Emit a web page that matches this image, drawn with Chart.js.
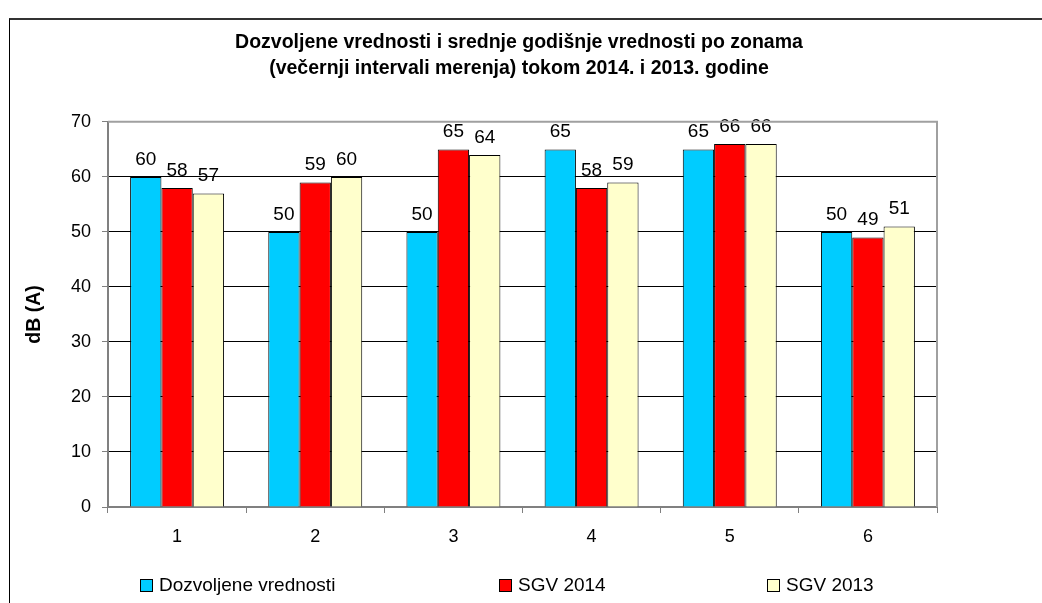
<!DOCTYPE html>
<html lang="sr">
<head>
    <meta charset="UTF-8">
    <title>Dozvoljene vrednosti i SGV po zonama</title>
    <script src="https://cdn.jsdelivr.net/npm/chart.js"></script>
    <style>
        body {
            margin: 0;
            background: #ffffff;
            overflow: hidden;
            font-family: "Liberation Sans", Arial, sans-serif;
        }
        .frame {
            position: absolute;
            left: 9px;
            top: 18px;
            width: 1060px;
            height: 620px;
            border-left: 1px solid #000;
            border-top: 2px solid #333;
        }
        .chart-box {
            position: absolute;
            left: 10px;
            top: 19px;
            width: 1018px;
            height: 584px;
        }
    </style>
</head>
<body>
    <div class="frame"></div>
    <div class="chart-box">
        <canvas id="myChart"></canvas>
    </div>

    <script>
        const zones = ['1', '2', '3', '4', '5', '6'];
        const dozvoljene = [60, 50, 50, 65, 65, 50];
        const sgv2014 = [58, 59, 65, 58, 66, 49];
        const sgv2013 = [57, 60, 64, 59, 66, 51];
        const yTicks = [0, 10, 20, 30, 40, 50, 60, 70];

        const seriesNames = ['Dozvoljene vrednosti', 'SGV 2014', 'SGV 2013'];
        const seriesColors = ['#00ccff', '#ff0000', '#ffffcc'];
        const fontFamily = '"Liberation Sans", Arial, sans-serif';

        // value labels above each bar
        const valueLabels = {
            id: 'valueLabels',
            afterDatasetsDraw(chart) {
                const c = chart.ctx;
                c.save();
                c.font = '19px ' + fontFamily;
                c.fillStyle = '#000';
                c.textAlign = 'center';
                c.textBaseline = 'alphabetic';
                chart.data.datasets.forEach((ds, i) => {
                    chart.getDatasetMeta(i).data.forEach((bar, j) => {
                        c.fillText(ds.data[j], bar.x, bar.y - 12);
                    });
                });
                c.restore();
            }
        };

        // grey top/right border of the plot area + legend along the bottom
        const frameAndLegend = {
            id: 'frameAndLegend',
            afterDraw(chart) {
                const c = chart.ctx;
                const a = chart.chartArea;
                c.save();
                c.strokeStyle = '#a0a0a0';
                c.lineWidth = 2;
                c.beginPath();
                c.moveTo(a.left, a.top);
                c.lineTo(a.right, a.top);
                c.lineTo(a.right, a.bottom);
                c.stroke();

                const xs = [130, 489, 757];
                const y = 566;
                c.font = '19px ' + fontFamily;
                c.textBaseline = 'middle';
                c.textAlign = 'left';
                c.lineWidth = 1;
                c.strokeStyle = '#000';
                seriesNames.forEach((name, i) => {
                    c.fillStyle = seriesColors[i];
                    c.fillRect(xs[i] + 0.5, y - 6 + 0.5, 12, 12);
                    c.strokeRect(xs[i] + 0.5, y - 6 + 0.5, 12, 12);
                    c.fillStyle = '#000';
                    c.fillText(name, xs[i] + 19, y + 1);
                });
                c.restore();
            }
        };

        const ctx = document.getElementById('myChart').getContext('2d');
        new Chart(ctx, {
            type: 'bar',
            data: {
                labels: zones,
                datasets: [dozvoljene, sgv2014, sgv2013].map((d, i) => ({
                    label: seriesNames[i],
                    data: d,
                    backgroundColor: seriesColors[i],
                    borderColor: '#000',
                    borderWidth: 1,
                    categoryPercentage: 0.68,
                    barPercentage: 1
                }))
            },
            options: {
                responsive: true,
                maintainAspectRatio: false,
                animation: false,
                layout: {
                    padding: { left: 0, right: 0, top: 0, bottom: 46 }
                },
                plugins: {
                    legend: { display: false },
                    tooltip: { enabled: false },
                    title: {
                        display: true,
                        text: ['Dozvoljene vrednosti i srednje godišnje vrednosti po zonama',
                               '(večernji intervali merenja) tokom 2014. i 2013. godine'],
                        color: '#000',
                        font: { family: fontFamily, size: 19.5, weight: 'bold', lineHeight: 1.33 },
                        padding: { top: 11, bottom: 40 }
                    }
                },
                scales: {
                    x: {
                        afterFit: s => { s.height = 50; },
                        grid: {
                            offset: true,
                            drawOnChartArea: false,
                            tickColor: '#808080',
                            tickLength: 6
                        },
                        border: { color: '#808080', width: 2 },
                        ticks: {
                            color: '#000',
                            padding: 13,
                            font: { family: fontFamily, size: 18 }
                        }
                    },
                    y: {
                        min: 0,
                        max: 70,
                        afterFit: s => { s.width = 98; },
                        afterBuildTicks: s => { s.ticks = yTicks.map(v => ({ value: v })); },
                        grid: {
                            color: c => c.tick && c.tick.value === 70 ? '#a0a0a0' : '#000',
                            tickColor: '#808080',
                            tickLength: 6
                        },
                        border: { color: '#808080', width: 2 },
                        ticks: {
                            color: '#000',
                            padding: 11,
                            font: { family: fontFamily, size: 18 }
                        },
                        title: {
                            display: true,
                            text: 'dB (A)',
                            color: '#000',
                            font: { family: fontFamily, size: 19.5, weight: 'bold' },
                            padding: { top: 13, bottom: 0 }
                        }
                    },
                    // empty right-hand box so the plot ends where the original does
                    // while the title stays centred on the whole frame
                    spacer: {
                        type: 'linear',
                        position: 'right',
                        display: true,
                        afterFit: s => { s.width = 91; },
                        grid: { drawOnChartArea: false, drawTicks: false },
                        border: { display: false },
                        ticks: { display: false }
                    }
                }
            },
            plugins: [valueLabels, frameAndLegend]
        });
    </script>
</body>
</html>
